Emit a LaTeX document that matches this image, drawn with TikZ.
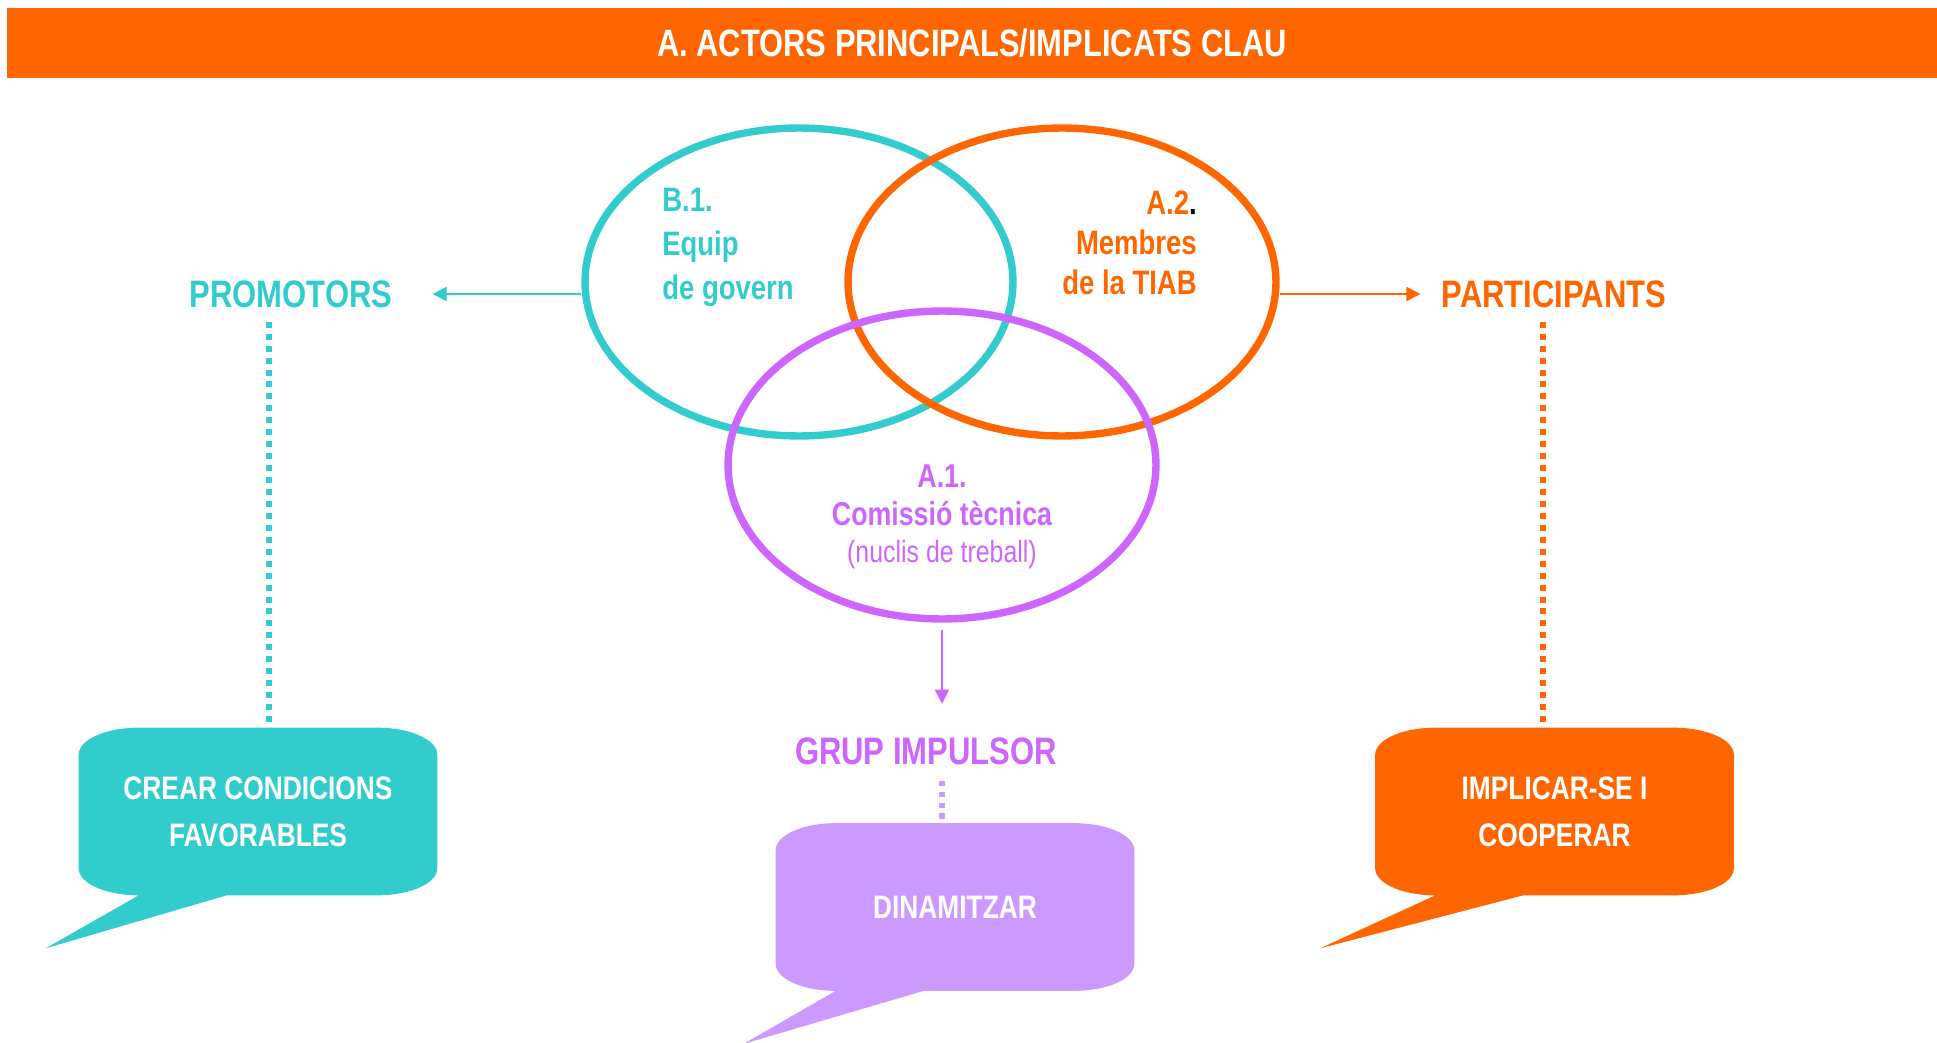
\documentclass[tikz,border=0pt]{standalone}
\usepackage{fontspec}
\setmainfont{Liberation Sans}[FakeStretch=0.81]
\usepackage{tikz}
\usetikzlibrary{positioning}
\usetikzlibrary{arrows.meta,shapes.geometric}
\usetikzlibrary{calc}
\definecolor{turq}{HTML}{33CCCC}
\definecolor{orng}{HTML}{FF6600}
\definecolor{violet}{HTML}{CC66FF}
\definecolor{lilac}{HTML}{CC99FF}
\tikzstyle{ring}=[ellipse,minimum width=8.56cm,minimum height=6.16cm,line width=4.2pt,inner sep=0pt]
\tikzstyle{rolename}=[font=\bfseries\fontsize{21.8}{25}\selectfont]
\tikzstyle{ringtext}=[inner sep=0pt,font=\bfseries\fontsize{19.3}{25}\selectfont]
\tikzstyle{bubblebox}=[minimum width=7.16cm,minimum height=3.34cm,inner sep=0pt,align=center,text=white,font=\bfseries\fontsize{18.5}{26.7}\selectfont]
\tikzstyle{thinarrow}=[-{Triangle[length=8pt,width=8pt]},line width=1pt]
\tikzstyle{dots}=[line width=3.4pt,dash pattern=on 3.4pt off 3.4pt]

\begin{document}
\begin{tikzpicture}[x=0.02cm,y=-0.02cm]
\useasboundingbox (0,0) rectangle (1937,1043);

% title bar
\node[fill=orng,minimum width=38.6cm,minimum height=1.4cm,text=white,font=\bfseries\fontsize{21.7}{25}\selectfont] (title) at (972,43) {A. ACTORS PRINCIPALS/IMPLICATS CLAU};

% the three rings
\node[ring,draw=turq] (govern) at (799,282) {};
\node[ring,draw=orng] (tiab) at (1062,282) {};
\node[ring,draw=violet] (comissio) at (942,465) {};

\node[ringtext,text=turq,align=left,anchor=north west] (b1) at (662,188) {B.1.\\Equip\\de govern};
\node[ringtext,text=orng,align=right,anchor=north east,font=\bfseries\fontsize{19.3}{23}\selectfont] (a2) at (1197,190) {A.2\textcolor{black}{.}\\Membres\\de la TIAB};
\node[ringtext,text=violet,align=center,anchor=north,font=\bfseries\fontsize{18.8}{21.6}\selectfont] (a1) at (942,464) {A.1.\\Comissió tècnica\\{\mdseries\fontsize{17.5}{21.6}\selectfont (nuclis de treball)}};

% roles
\node[rolename,text=turq] (promotors) at (291,294) {PROMOTORS};
\node[rolename,text=orng] (participants) at (1554,294) {PARTICIPANTS};
\node[rolename,text=violet] (impulsor) at (926,751) {GRUP IMPULSOR};

\draw[thinarrow,turq] (govern.west |- promotors.east) -- (promotors.east) [shorten >=0.68cm];
\draw[thinarrow,orng] (tiab.east |- participants.west) -- (participants.west) [shorten >=0.3cm];
\draw[thinarrow,violet,shorten <=0.14cm] (comissio.south) -- (impulsor.north -| comissio.south) [shorten >=0.55cm];

% speech bubbles
\node[bubblebox] (crear) at (258,811.5) {CREAR CONDICIONS\\FAVORABLES};
\node[bubblebox] (dinam) at (955,907) {DINAMITZAR};
\node[bubblebox] (coop) at (1554.5,811.5) {IMPLICAR-SE I\\COOPERAR};

\foreach \n/\c/\tip in {crear/turq/-33, dinam/lilac/-32, coop/orng/-55}
    \fill[\c] ($(\n.north west)+(60,0)$) -- ($(\n.north east)+(-60,0)$)
        .. controls +(33,0) and +(0,-15) .. ($(\n.north east)+(0,27)$)
        -- ($(\n.south east)+(0,-27)$)
        .. controls +(0,15) and +(33,0) .. ($(\n.south east)+(-60,0)$)
        -- ($(\n.south west)+(148,0)$) -- ($(\n.south west)+(\tip,53)$) -- ($(\n.south west)+(60,0)$)
        .. controls +(-33,0) and +(0,15) .. ($(\n.south west)+(0,-27)$)
        -- ($(\n.north west)+(0,27)$)
        .. controls +(0,-15) and +(-33,0) .. ($(\n.north west)+(60,0)$) -- cycle;
\node[bubblebox] at (crear) {CREAR CONDICIONS\\FAVORABLES};
\node[bubblebox] at (dinam) {DINAMITZAR};
\node[bubblebox] at (coop) {IMPLICAR-SE I\\COOPERAR};

% dotted links
\draw[dots,turq] ([xshift=0.22cm]crear.north |- promotors.south) -- ([xshift=0.22cm]crear.north) [shorten <=0.16cm];
\draw[dots,orng] ([xshift=-0.23cm]coop.north |- participants.south) -- ([xshift=-0.23cm]coop.north) [shorten <=0.16cm];
\draw[dots,lilac,line width=2.9pt,dash pattern=on 2.9pt off 3.3pt] ([xshift=-0.26cm]dinam.north |- impulsor.south) -- ([xshift=-0.26cm]dinam.north) [shorten <=0.2cm];

\end{tikzpicture}
\end{document}
